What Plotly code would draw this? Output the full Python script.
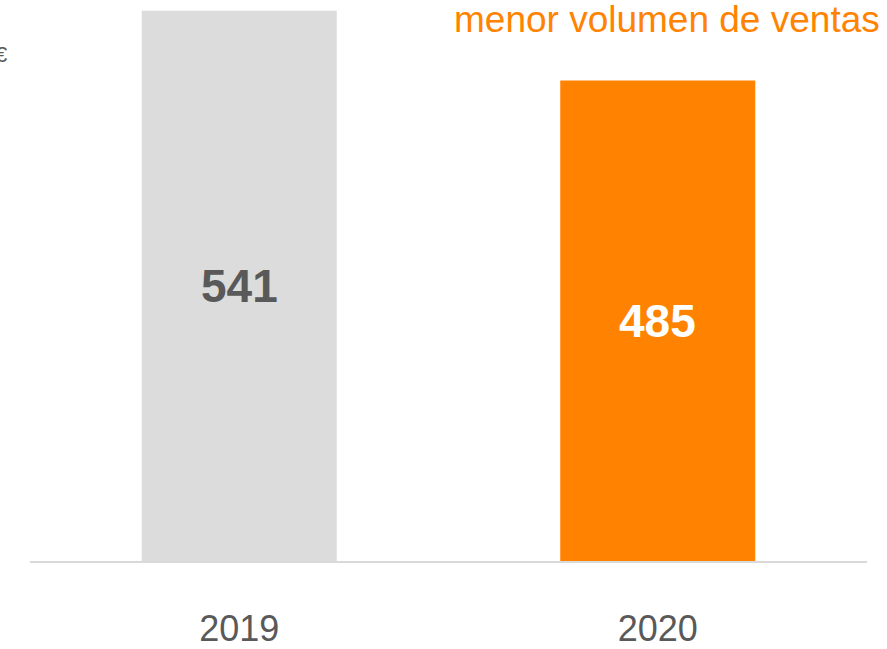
import plotly.graph_objects as go

years = ["2019", "2020"]
values = [541, 485]
bar_colors = ["#DCDCDC", "#FF8300"]
label_colors = ["#595959", "#FFFFFF"]
note_text = "menor volumen de ventas"
unit_text = "€"

axis_min = 100
axis_max = 549.6

positions = list(range(len(years)))

fig = go.Figure()
fig.add_trace(go.Bar(
    x=positions, y=values, marker=dict(color=bar_colors, line=dict(width=0)),
    width=0.466, customdata=years, hovertemplate="%{customdata}: %{y}<extra></extra>",
))

for p, v, c in zip(positions, values, label_colors):
    fig.add_annotation(
        x=p, y=(axis_min + v) / 2, xref="x", yref="y",
        text=f"<b>{v}</b>", showarrow=False,
        font=dict(family="Arial, Liberation Sans", size=46, color=c),
        xanchor="center", yanchor="middle",
    )

fig.add_annotation(
    x=1.0175, y=1.005, xref="paper", yref="paper", text=note_text,
    showarrow=False, xanchor="right", yanchor="top",
    font=dict(family="Arial, Liberation Sans", size=37, color="#FF8300"),
)
fig.add_annotation(
    x=-0.0245, y=0.902, xref="paper", yref="paper", text=unit_text,
    showarrow=False, xanchor="right", yanchor="middle",
    font=dict(family="Arial, Liberation Sans", size=22, color="#595959"),
)

fig.update_layout(
    width=887, height=649,
    margin=dict(l=30, r=20, t=0, b=88, autoexpand=False),
    paper_bgcolor="white", plot_bgcolor="white",
    showlegend=False,
    font=dict(family="Arial, Liberation Sans", color="#595959"),
    xaxis=dict(
        range=[-0.5, len(years) - 0.5], tickvals=positions, ticktext=years,
        showline=True, linecolor="#D9D9D9", linewidth=2, automargin=False,
        showgrid=False, zeroline=False, ticks="", ticklabelstandoff=35,
        tickfont=dict(size=36, color="#595959"),
    ),
    yaxis=dict(
        range=[axis_min, axis_max], showgrid=False, zeroline=False,
        showticklabels=False, showline=False, automargin=False,
    ),
)

fig.write_html(
    "out.html",
    config={"displayModeBar": False},
    post_script="document.body.style.margin='0';document.body.style.overflow='hidden';",
)
